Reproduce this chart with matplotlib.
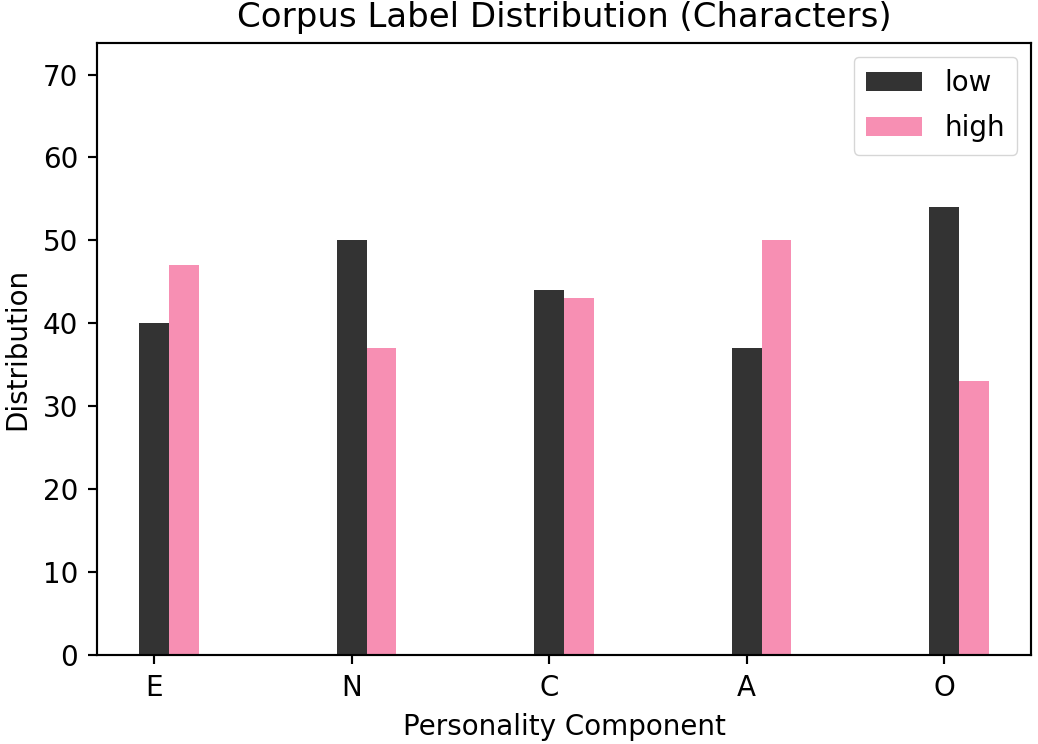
import numpy as np
import matplotlib
matplotlib.use("Agg")
import matplotlib.pyplot as plt

# data
components = ['E', 'N', 'C', 'A', 'O']
low = [40, 50, 44, 37, 54]
high = [47, 37, 43, 50, 33]

s = 1.944  # scale of the original small figure
plt.rcParams.update({
    'font.family': 'DejaVu Sans',
    'font.size': 20,
    'axes.linewidth': 0.8 * s,
    'xtick.major.width': 0.8 * s,
    'ytick.major.width': 0.8 * s,
    'xtick.major.size': 3.5 * s,
    'ytick.major.size': 3.5 * s,
    'xtick.major.pad': 3.5 * s,
    'ytick.major.pad': 3.5 * s,
    'axes.titlepad': 6 * s,
    'axes.labelpad': 4 * s,
})

fig = plt.figure(figsize=(10.38, 7.44), dpi=100)
ax = fig.add_axes([0.0934, 0.1196, 0.9, 0.8226])

x = np.arange(len(components))
w = 0.15
ax.bar(x, low, width=w, color='#333333', label='low')
ax.bar(x + w, high, width=w, color='#f78fb3', label='high')

ax.set_xticks(x)
ax.set_xticklabels(components)
ax.set_ylim(0, 73.8)
ax.set_yticks(range(0, 80, 10))
ax.set_title('Corpus Label Distribution (Characters)', fontsize=24.5)
ax.set_xlabel('Personality Component')
ax.set_ylabel('Distribution')
ax.legend(loc='upper right', borderpad=0.45, labelspacing=0.6)

fig.savefig('out.png', dpi=100)
